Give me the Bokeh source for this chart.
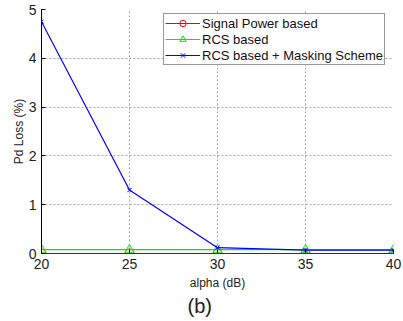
from bokeh.plotting import figure
from bokeh.models import Range1d, FixedTicker, Legend, LegendItem, Title
from bokeh.embed import file_html
from bokeh.resources import INLINE

alpha = [20, 25, 30, 35, 40]
signal_power = [0.0, 0.0, 0.0, 0.0, 0.0]
rcs = [0.08, 0.08, 0.08, 0.08, 0.08]
rcs_masking = [4.75, 1.3, 0.12, 0.07, 0.07]
x_ticks = [20, 25, 30, 35, 40]
y_ticks = [0, 1, 2, 3, 4, 5]

FONT = "Liberation Sans"

p = figure(width=403, height=321, output_backend="svg", toolbar_location=None,
           x_range=Range1d(20, 40), y_range=Range1d(0, 5),
           min_border_left=41, min_border_right=10, min_border_top=9, min_border_bottom=68)
p.outline_line_color = None
p.background_fill_color = "white"
p.border_fill_color = "white"

for ax in (p.xaxis[0], p.yaxis[0]):
    ax.major_label_text_font = FONT
    ax.major_label_text_font_size = "14px"
    ax.major_label_text_color = "#222222"
    ax.axis_label_text_font = FONT
    ax.axis_label_text_font_size = "12px"
    ax.axis_label_text_font_style = "normal"
    ax.axis_label_text_color = "#222222"
    ax.axis_line_color = "black"
    ax.major_tick_line_color = "black"
    ax.major_tick_in = 4
    ax.major_tick_out = 0
    ax.minor_tick_line_color = None

p.xaxis.axis_line_color = "#aa0000"
p.xaxis.ticker = FixedTicker(ticks=x_ticks)
p.yaxis.ticker = FixedTicker(ticks=y_ticks)
p.xaxis.axis_label = "alpha (dB)"
p.yaxis.axis_label = "Pd Loss (%)"
p.xaxis.major_label_standoff = 5
p.yaxis.major_label_standoff = 5
p.xaxis.axis_label_standoff = 4
p.yaxis.axis_label_standoff = 0

p.xgrid.grid_line_color = "#aaaaaa"
p.ygrid.grid_line_color = "#aaaaaa"
p.xgrid.grid_line_dash = "2 2"
p.ygrid.grid_line_dash = "2 2"

r1 = p.line(alpha, signal_power, color="red", line_width=1.2)
m1 = p.scatter(alpha, signal_power, marker="circle", size=9, fill_color=None, line_color="red")
r2 = p.line(alpha, rcs, color="#00ee00", line_width=1.2)
m2 = p.scatter(alpha, rcs, marker="triangle", size=9, fill_color=None, line_color="#00ee00")
r3 = p.line(alpha, rcs_masking, color="blue", line_width=1.2)
m3 = p.scatter(alpha, rcs_masking, marker="x", size=6, line_color="blue")

legend = Legend(items=[
    LegendItem(label="Signal Power based", renderers=[r1, m1]),
    LegendItem(label="RCS based", renderers=[r2, m2]),
    LegendItem(label="RCS based + Masking Scheme", renderers=[r3, m3]),
], location=(122, 188))
legend.margin = 0
legend.padding = 1
legend.spacing = 0
legend.glyph_width = 35
legend.glyph_height = 16
legend.label_height = 16
legend.label_standoff = 2
legend.label_text_font = FONT
legend.label_text_font_size = "13px"
legend.label_text_color = "#111111"
legend.border_line_color = "#333333"
legend.border_line_width = 1
legend.background_fill_alpha = 1
p.add_layout(legend, "center")

p.add_layout(Title(text="(b)", align="left", offset=146, text_font=FONT,
                   text_font_size="20px", text_font_style="normal",
                   text_color="#222222", standoff=0), "below")

open("out.html", "w").write(file_html(p, INLINE))
